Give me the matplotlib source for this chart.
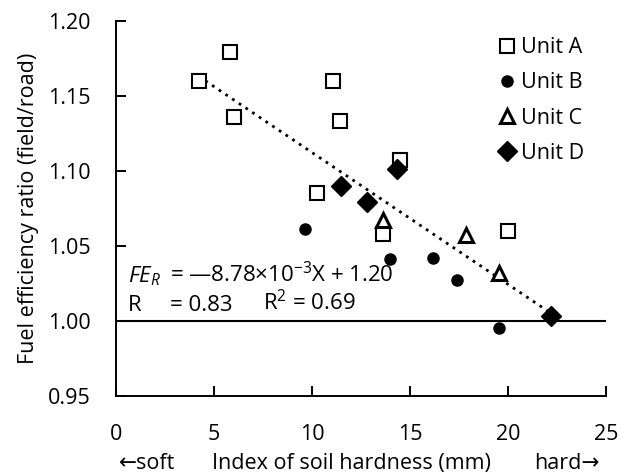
import numpy as np
import matplotlib
matplotlib.use('Agg')
import matplotlib.pyplot as plt

plt.rcParams['font.family'] = ['Open Sans', 'DejaVu Sans']
plt.rcParams['mathtext.fontset'] = 'custom'
plt.rcParams['mathtext.rm'] = 'Open Sans'
plt.rcParams['mathtext.it'] = 'Open Sans:italic'

# values
unit_a_x = [4.22, 5.82, 6.02, 11.06, 11.43, 14.49, 10.24, 13.6, 20.02]
unit_a_y = [1.160, 1.179, 1.136, 1.160, 1.133, 1.107, 1.085, 1.058, 1.060]
unit_b_x = [9.64, 13.98, 16.16, 17.38, 19.54]
unit_b_y = [1.061, 1.041, 1.042, 1.027, 0.995]
unit_c_x = [13.64, 17.86, 19.55]
unit_c_y = [1.067, 1.057, 1.032]
unit_d_x = [11.48, 12.79, 14.35, 22.2]
unit_d_y = [1.090, 1.079, 1.101, 1.003]

slope = -8.78e-3
intercept = 1.20

x_ticks = [0, 5, 10, 15, 20, 25]
y_ticks = [0.95, 1.00, 1.05, 1.10, 1.15, 1.20]

FS = 15.5

fig = plt.figure(figsize=(6.29, 4.73), dpi=100)
ax = fig.add_axes([116 / 629, 1 - 396 / 473, 490 / 629, 375.3 / 473])

all_x = unit_a_x + unit_b_x + unit_c_x + unit_d_x
fit_x = np.array([min(all_x), max(all_x)])
ax.plot(fit_x, slope * fit_x + intercept, color='black', lw=2,
        linestyle=(0, (1, 1.9)), zorder=2)
ax.axhline(1.0, color='black', lw=1.5, zorder=1)

ax.plot(unit_a_x, unit_a_y, 's', ms=10, mfc='white', mec='black', mew=1.5,
        label='Unit A', zorder=3)
ax.plot(unit_b_x, unit_b_y, 'o', ms=8, mfc='black', mec='black',
        label='Unit B', zorder=3)
ax.plot(unit_c_x, unit_c_y, '^', ms=10, mfc='white', mec='black', mew=2.2,
        label='Unit C', zorder=3)
ax.plot(unit_d_x, unit_d_y, 'D', ms=10, mfc='black', mec='black',
        label='Unit D', zorder=3)

ax.set_xlim(0, 25)
ax.set_ylim(0.95, 1.20)
ax.set_xticks(x_ticks)
ax.set_yticks(y_ticks)
ax.set_yticklabels(['%.2f' % v for v in y_ticks])
ax.tick_params(direction='in', length=7, width=1.4, labelsize=FS)
ax.tick_params(axis='x', pad=20)
ax.tick_params(axis='y', pad=18)
for s in ['top', 'right']:
    ax.spines[s].set_visible(False)
for s in ['left', 'bottom']:
    ax.spines[s].set_linewidth(1.4)

ax.set_ylabel('Fuel efficiency ratio (field/road)', fontsize=FS, labelpad=7)

ax.text(0.006, -0.179, '\u2190soft', transform=ax.transAxes, fontsize=FS,
        ha='left', va='center')
ax.text(0.48, -0.179, 'Index of soil hardness (mm)', transform=ax.transAxes,
        fontsize=FS, ha='center', va='center')
ax.text(0.987, -0.179, 'hard\u2192', transform=ax.transAxes, fontsize=FS,
        ha='right', va='center')

# regression note, two lines
ax.text(0.61, 1.0259, r'$\mathit{FE}_{\mathit{R}}$', fontsize=16,
        ha='left', va='baseline')
ax.text(2.76, 1.0259, '= \u20148.78\u00d710$^{-3}$X + 1.20', fontsize=16,
        ha='left', va='baseline')
ax.text(0.61, 1.0069, 'R', fontsize=16, ha='left', va='baseline')
ax.text(2.76, 1.0069, '= 0.83', fontsize=16, ha='left', va='baseline')
ax.text(7.50, 1.0069, r'R$^2$ = 0.69', fontsize=16, ha='left', va='baseline')

ax.legend(loc='upper left', bbox_to_anchor=(0.78, 0.956), frameon=False,
          fontsize=FS, handlelength=0.8, handletextpad=0.27, borderpad=0,
          borderaxespad=0, labelspacing=0.66, numpoints=1)

fig.savefig('out.png', dpi=100)
